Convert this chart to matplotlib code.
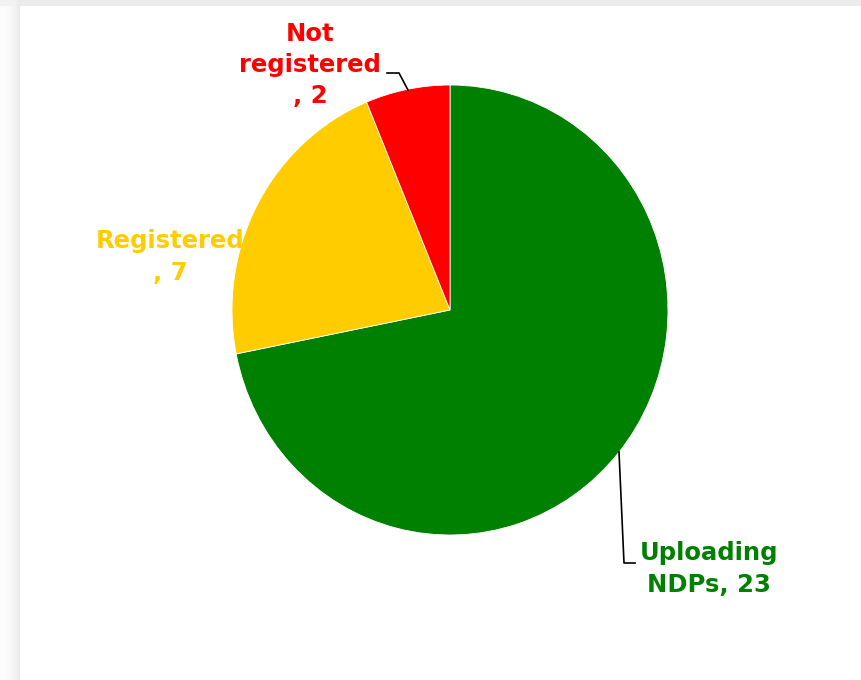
import numpy as np
import matplotlib.pyplot as plt
from matplotlib.lines import Line2D

labels = ['Uploading\nNDPs, 23', 'Registered\n, 7', 'Not\nregistered\n, 2']
values = [23, 7, 2]
colors = ['#008000', '#FFCC00', '#FF0000']

W, H = 862, 680
fig = plt.figure(figsize=(W / 100, H / 100), dpi=100)

def fx(x):
    return x / W

def fy(y):
    return 1 - y / H

# background with the grey shadow on the top and left edges
bg = np.ones((H, W, 3))
xs = np.arange(20)
left = 0.995 - 0.08 * (xs / 19.0) ** 2
bg[:, :20, :] = left[None, :, None]
bg[:6, 20:, :] = 0.925
bg[:6, :20, :] = np.minimum(bg[:6, :20, :], 0.95)
bax = fig.add_axes([0, 0, 1, 1])
bax.imshow(bg, aspect='auto', interpolation='bilinear')
bax.axis('off')

# pie
cx, cy, rx, ry = 450, 310, 218, 225
ax = fig.add_axes([fx(cx - rx), fy(cy + ry), 2 * rx / W, 2 * ry / H])
ax.pie(values, colors=colors, startangle=90, counterclock=False,
       wedgeprops=dict(edgecolor='white', linewidth=0.6))
ax.set_xlim(-1, 1)
ax.set_ylim(-1, 1)
ax.set_aspect('auto')
ax.axis('off')

# labels
pos = [(709, 569), (170, 257), (310, 65)]
for lab, c, (x, y) in zip(labels, colors, pos):
    fig.text(fx(x), fy(y), lab, color=c, fontsize=17.5, fontweight='bold',
             ha='center', va='center', linespacing=1.38, family='DejaVu Sans')

# leader lines
fig.add_artist(Line2D([fx(387), fx(399), fx(408)], [fy(73), fy(73), fy(90)],
                      color='black', lw=1.2))
fig.add_artist(Line2D([fx(619), fx(624), fx(635)], [fy(452), fy(563), fy(563)],
                      color='black', lw=1.2))

fig.savefig('out.png', dpi=100)
